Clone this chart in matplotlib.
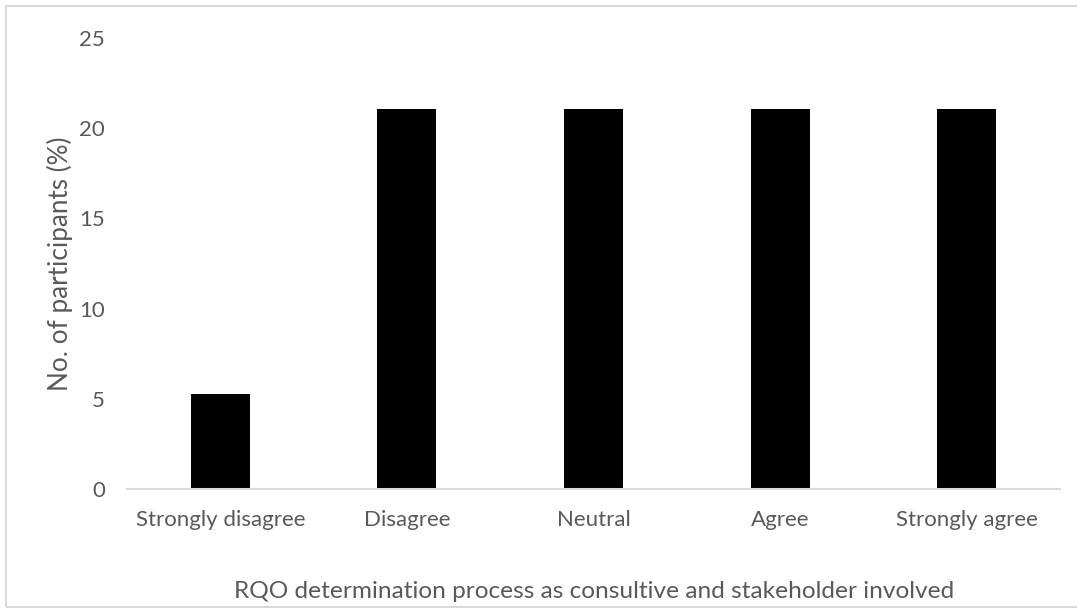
import matplotlib
matplotlib.use("Agg")
import matplotlib.pyplot as plt
from matplotlib.patches import Rectangle

categories = ["Strongly disagree", "Disagree", "Neutral", "Agree", "Strongly agree"]
participants_pct = [5.26, 21.05, 21.05, 21.05, 21.05]
y_ticks = [0, 5, 10, 15, 20, 25]

plt.rcParams['font.family'] = ['Lato', 'DejaVu Sans']
text_color = '#595959'
W, H = 1077, 608

fig = plt.figure(figsize=(W / 100, H / 100), dpi=100)
ax = fig.add_axes([127 / W, 1 - 489 / H, (1060 - 127) / W, (489 - 38) / H])

x = range(len(categories))
ax.bar(x, participants_pct, width=0.316, color='black')

ax.set_xlim(-0.5, len(categories) - 0.5)
ax.set_ylim(0, 25)
ax.set_yticks(y_ticks)
ax.set_xticks(list(x))
ax.set_xticklabels(categories)
ax.tick_params(axis='both', length=0, labelsize=16, colors=text_color)
ax.tick_params(axis='x', pad=15)
ax.tick_params(axis='y', pad=16)

for side in ['top', 'right', 'left']:
    ax.spines[side].set_visible(False)
ax.spines['bottom'].set_color('#d9d9d9')
ax.spines['bottom'].set_linewidth(1.5)

# axis titles placed in figure pixels
fig.text(60 / W, 1 - 264 / H, "No. of participants (%)", rotation=90,
         ha='center', va='center', fontsize=18.8, color=text_color)
fig.text(594 / W, 1 - 591 / H,
         "RQO determination process as consultive and stakeholder involved",
         ha='center', va='center', fontsize=17.6, color=text_color)

# chart area outline
fig.patches.append(Rectangle((6 / W, 1 / H), 1.05, 1 - 7 / H, transform=fig.transFigure,
                             fill=False, edgecolor='#d9d9d9', linewidth=1.5))

fig.savefig("out.png", dpi=100)
